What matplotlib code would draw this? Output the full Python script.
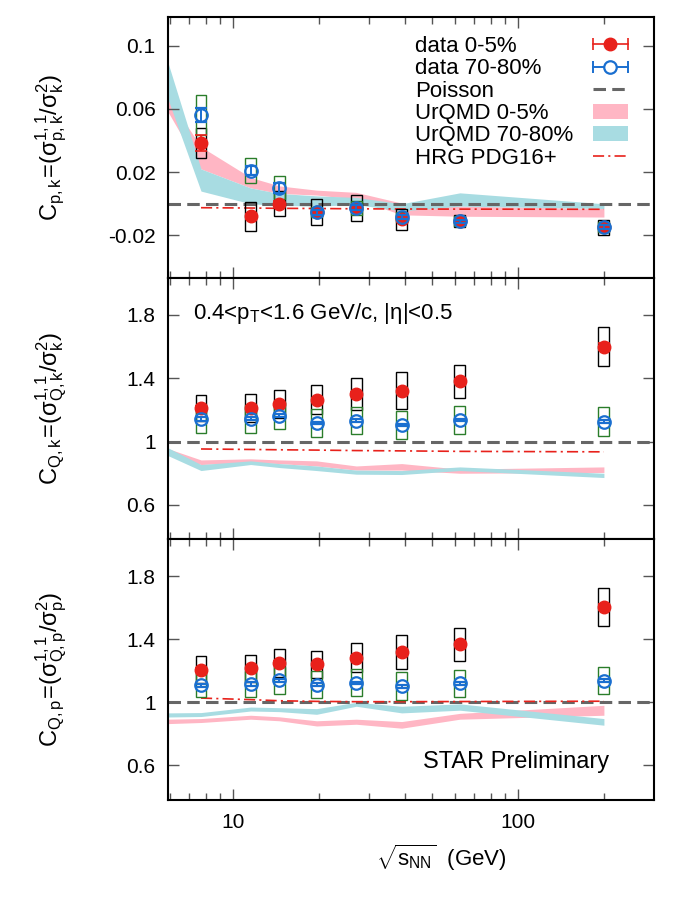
import matplotlib
matplotlib.use('Agg')
import matplotlib.pyplot as plt
from matplotlib.lines import Line2D
from matplotlib.patches import Patch, Rectangle
from matplotlib.legend_handler import HandlerLine2D
from matplotlib.ticker import FixedLocator, NullFormatter

plt.rcParams['font.family'] = ['Liberation Sans', 'DejaVu Sans']
plt.rcParams['mathtext.fontset'] = 'custom'
plt.rcParams['mathtext.rm'] = 'Liberation Sans'
plt.rcParams['mathtext.it'] = 'Liberation Sans:italic'
plt.rcParams['mathtext.sf'] = 'Liberation Sans'
plt.rcParams['lines.scale_dashes'] = False

# collision energies (GeV)
energy = [7.7, 11.5, 14.5, 19.6, 27, 39, 62.4, 200]
urqmd_energy = [5.9, 7.7, 11.5, 14.5, 19.6, 27, 39, 62.4, 200]

# C_{p,k}
pk_central = [0.0385, -0.008, 0.0, -0.0053, -0.0027, -0.0099, -0.011, -0.015]
pk_central_err = [0.005, 0.0015, 0.0015, 0.0015, 0.0015, 0.0015, 0.001, 0.0015]
pk_central_sys = [0.0093, 0.009, 0.008, 0.008, 0.0085, 0.0065, 0.004, 0.005]
pk_periph = [0.0562, 0.021, 0.0101, -0.0053, -0.0025, -0.0084, -0.011, -0.0147]
pk_periph_err = [0.0045, 0.003, 0.003, 0.0015, 0.0015, 0.0015, 0.001, 0.001]
pk_periph_sys = [0.0128, 0.0077, 0.0072, 0.003, 0.0045, 0.003, 0.003, 0.003]
pk_hrg = [-0.0025, -0.0027, -0.0029, -0.003, -0.0032, -0.0033, -0.0034, -0.0035]
pk_urqmd_c_lo = [0.058, 0.022, 0.010, 0.0065, 0.0055, 0.003, -0.007, -0.0079, -0.0084]
pk_urqmd_c_hi = [0.0675, 0.036, 0.0166, 0.0113, 0.0086, 0.0072, 0.0004, -0.0015, -0.003]
pk_urqmd_p_lo = [0.066, 0.008, 0.0, -0.001, -0.0015, -0.0005, -0.0045, -0.0015, -0.003]
pk_urqmd_p_hi = [0.089, 0.022, 0.010, 0.0065, 0.005, 0.004, 0.0, 0.0069, 0.0]

# C_{Q,k}
qk_central = [1.211, 1.211, 1.234, 1.263, 1.301, 1.32, 1.381, 1.598]
qk_central_err = [0.01, 0.01, 0.01, 0.01, 0.01, 0.01, 0.012, 0.02]
qk_central_sys = [0.084, 0.0875, 0.0885, 0.0905, 0.102, 0.118, 0.104, 0.123]
qk_periph = [1.141, 1.143, 1.164, 1.118, 1.131, 1.105, 1.137, 1.126]
qk_periph_err = [0.012, 0.01, 0.01, 0.008, 0.008, 0.008, 0.008, 0.008]
qk_periph_sys = [0.0865, 0.0895, 0.084, 0.087, 0.0855, 0.0865, 0.0885, 0.0885]
qk_hrg = [0.953, 0.950, 0.948, 0.946, 0.943, 0.941, 0.938, 0.935]
qk_urqmd_c_lo = [0.915, 0.855, 0.868, 0.861, 0.846, 0.82, 0.82, 0.80, 0.805]
qk_urqmd_c_hi = [0.955, 0.884, 0.891, 0.884, 0.878, 0.846, 0.861, 0.826, 0.84]
qk_urqmd_p_lo = [0.911, 0.817, 0.855, 0.836, 0.817, 0.794, 0.792, 0.817, 0.773]
qk_urqmd_p_hi = [0.960, 0.855, 0.878, 0.861, 0.846, 0.82, 0.817, 0.84, 0.80]

# C_{Q,p}
qp_central = [1.206, 1.215, 1.25, 1.24, 1.284, 1.318, 1.368, 1.606]
qp_central_err = [0.01, 0.01, 0.01, 0.01, 0.01, 0.01, 0.012, 0.02]
qp_central_sys = [0.0855, 0.083, 0.0875, 0.0865, 0.0925, 0.1095, 0.1035, 0.121]
qp_periph = [1.109, 1.116, 1.139, 1.112, 1.124, 1.101, 1.12, 1.137]
qp_periph_err = [0.01, 0.01, 0.01, 0.008, 0.008, 0.008, 0.008, 0.008]
qp_periph_sys = [0.0765, 0.082, 0.086, 0.0875, 0.0855, 0.089, 0.086, 0.0865]
qp_hrg = [1.027, 1.017, 1.010, 1.006, 1.004, 1.004, 1.005, 1.007]
qp_urqmd_c_lo = [0.865, 0.872, 0.893, 0.883, 0.85, 0.861, 0.836, 0.893, 0.918]
qp_urqmd_c_hi = [0.893, 0.897, 0.918, 0.908, 0.883, 0.893, 0.878, 0.93, 0.981]
qp_urqmd_p_lo = [0.907, 0.91, 0.945, 0.941, 0.924, 0.975, 0.933, 0.95, 0.855]
qp_urqmd_p_hi = [0.933, 0.935, 0.970, 0.966, 0.96, 1.0, 0.975, 0.99, 0.897]

pk_ticks = [-0.02, 0.02, 0.06, 0.1]
pk_ticklabels = ['-0.02', '0.02', '0.06', '0.1']
q_ticks = [0.6, 1.0, 1.4, 1.8]
q_ticklabels = ['0.6', '1', '1.4', '1.8']

legend_labels = ['data 0-5%', 'data 70-80%', 'Poisson', 'UrQMD 0-5%', 'UrQMD 70-80%', 'HRG PDG16+']

red = '#e8211b'
blue = '#1a6fd0'
green = '#2a7d2a'
pink = '#ffb6c4'
cyan = '#a8dce2'
gray = '#666666'

box_w = 1.045


def draw_boxes(ax, x, y, sys, color):
    for xi, yi, si in zip(x, y, sys):
        ax.add_patch(Rectangle((xi / box_w, yi - si), xi * box_w - xi / box_w, 2 * si,
                               fill=False, edgecolor=color, lw=1.0, zorder=3))


def draw_panel(ax, poisson, c, c_err, c_sys, p, p_err, p_sys, hrg, c_lo, c_hi, p_lo, p_hi):
    ax.fill_between(urqmd_energy, c_lo, c_hi, color=pink, lw=0, zorder=1)
    ax.fill_between(urqmd_energy, p_lo, p_hi, color=cyan, lw=0, zorder=1.1)
    ax.axhline(poisson, color=gray, lw=2.2, dashes=(9, 4.5), zorder=2)
    ax.plot(energy, hrg, color=red, lw=1.2, dashes=(8, 3, 1.5, 3), zorder=2.1)
    draw_boxes(ax, energy, c, c_sys, 'black')
    draw_boxes(ax, energy, p, p_sys, green)
    ax.errorbar(energy, c, yerr=c_err, fmt='o', color=red, ms=9, capsize=4,
                elinewidth=1.2, capthick=1.2, zorder=4)
    ax.errorbar(energy, p, yerr=p_err, fmt='o', mfc='none', mec=blue, ecolor=blue,
                ms=9, mew=1.6, capsize=4, elinewidth=1.4, capthick=1.4, zorder=5)


fig, axes = plt.subplots(3, 1, figsize=(6.75, 9), dpi=100, sharex=True)
plt.subplots_adjust(left=0.249, right=0.969, bottom=0.111, top=0.981, hspace=0)

draw_panel(axes[0], 0.0, pk_central, pk_central_err, pk_central_sys,
           pk_periph, pk_periph_err, pk_periph_sys, pk_hrg,
           pk_urqmd_c_lo, pk_urqmd_c_hi, pk_urqmd_p_lo, pk_urqmd_p_hi)
draw_panel(axes[1], 1.0, qk_central, qk_central_err, qk_central_sys,
           qk_periph, qk_periph_err, qk_periph_sys, qk_hrg,
           qk_urqmd_c_lo, qk_urqmd_c_hi, qk_urqmd_p_lo, qk_urqmd_p_hi)
draw_panel(axes[2], 1.0, qp_central, qp_central_err, qp_central_sys,
           qp_periph, qp_periph_err, qp_periph_sys, qp_hrg,
           qp_urqmd_c_lo, qp_urqmd_c_hi, qp_urqmd_p_lo, qp_urqmd_p_hi)

axes[0].set_ylim(-0.047, 0.118)
axes[1].set_ylim(0.385, 2.03)
axes[2].set_ylim(0.38, 2.035)
axes[0].set_yticks(pk_ticks, pk_ticklabels)
axes[1].set_yticks(q_ticks, q_ticklabels)
axes[2].set_yticks(q_ticks, q_ticklabels)

ylabels = [r'$\mathregular{C_{p,k}\!=\!(\sigma^{1,1}_{p,k}/\sigma^{2}_{k})}$',
           r'$\mathregular{C_{Q,k}\!=\!(\sigma^{1,1}_{Q,k}/\sigma^{2}_{k})}$',
           r'$\mathregular{C_{Q,p}\!=\!(\sigma^{1,1}_{Q,p}/\sigma^{2}_{p})}$']

for ax, lab in zip(axes, ylabels):
    ax.set_xscale('log')
    ax.set_xlim(5.9, 300)
    ax.xaxis.set_major_locator(FixedLocator([10, 100]))
    ax.xaxis.set_minor_locator(FixedLocator([6, 7, 8, 9, 20, 30, 40, 50, 60, 70, 80, 90, 200]))
    ax.xaxis.set_minor_formatter(NullFormatter())
    ax.tick_params(which='both', direction='in', top=True, right=True,
                   color='#555555', labelsize=15, width=1.0)
    ax.tick_params(which='major', length=8, pad=9)
    ax.tick_params(which='minor', length=5)
    for s in ax.spines.values():
        s.set_linewidth(1.5)
    ax.set_ylabel(lab, fontsize=17, va='center')
    ax.yaxis.set_label_coords(-0.24, 0.5)

axes[2].set_xticks([10, 100], ['10', '100'])
axes[0].tick_params(labelbottom=False)
axes[1].tick_params(labelbottom=False)

fig.text(441 / 675, 1 - 858 / 900, r'$\mathregular{\sqrt{s_{NN}}}$  (GeV)',
         fontsize=16, ha='center', va='center')

axes[1].text(0.051, 0.865, r'0.4<p$_\mathregular{T}$<1.6 GeV/c, |$\mathregular{\eta}$|<0.5',
             transform=axes[1].transAxes, fontsize=16, ha='left', va='center')
axes[2].text(0.907, 0.145, 'STAR Preliminary', transform=axes[2].transAxes,
             fontsize=17, ha='right', va='center')

# legend: symbols on the right, left-aligned text on the left (gnuplot style)
caps_c = Line2D([], [], color=red, marker='|', ms=8, mew=1.2, lw=1.2)
dot_c = Line2D([], [], color=red, marker='o', ms=9, ls='none')
caps_p = Line2D([], [], color=blue, marker='|', ms=8, mew=1.4, lw=1.4)
dot_p = Line2D([], [], color=blue, marker='o', ms=9, mfc='white', mew=1.6, ls='none')
h_poisson = Line2D([], [], color=gray, lw=2.2, dashes=(9, 4.5))
h_uc = Patch(facecolor=pink, edgecolor='none')
h_up = Patch(facecolor=cyan, edgecolor='none')
h_hrg = Line2D([], [], color=red, lw=1.2, dashes=(8, 3, 1.5, 3))

leg_kw = dict(frameon=False, fontsize=16, labelspacing=0.06, borderaxespad=0, borderpad=0)
sym_leg = axes[0].legend([(caps_c, dot_c), (caps_p, dot_p), h_poisson, h_uc, h_up, h_hrg],
                         [' '] * len(legend_labels),
                         handler_map={caps_c: HandlerLine2D(numpoints=2, marker_pad=0),
                                      caps_p: HandlerLine2D(numpoints=2, marker_pad=0)},
                         loc='upper right', bbox_to_anchor=(0.9465, 0.927), markerfirst=False,
                         handlelength=1.6, handletextpad=0, **leg_kw)
axes[0].add_artist(sym_leg)
blank = [Line2D([], [], color='none') for _ in legend_labels]
axes[0].legend(blank, legend_labels, loc='upper left', bbox_to_anchor=(0.508, 0.927),
               handlelength=0, handletextpad=0, **leg_kw)

plt.savefig('out.png', dpi=100)
